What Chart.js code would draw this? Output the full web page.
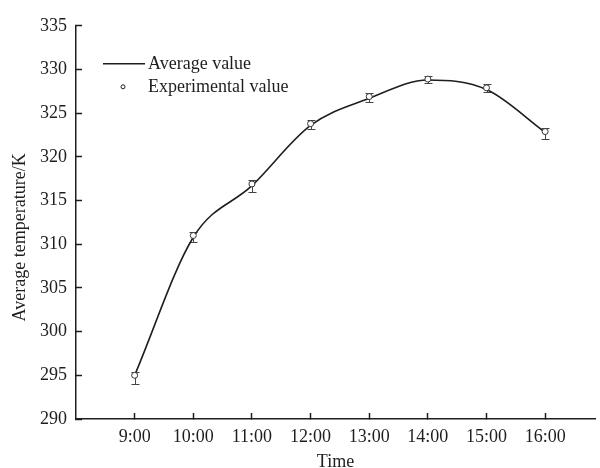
<!DOCTYPE html>
<html>
<head>
<meta charset="utf-8">
<script src="https://cdn.jsdelivr.net/npm/chart.js@4.4.1/dist/chart.umd.min.js"></script>
<style>
  body { margin: 0; background: #fff; }
</style>
</head>
<body>
<canvas id="tempChart" width="600" height="468"></canvas>
<script>
// time of day, hours (9 -> 9:00)
var hours = [9, 10, 11, 12, 13, 14, 15, 16];
// fitted average temperature, K
var avgTemp = [295.0, 310.8, 316.7, 323.6, 326.7, 328.8, 327.7, 322.8];
// measured temperature, K
var expTemp = [295.0, 311.0, 316.9, 323.8, 326.9, 328.9, 327.9, 322.9];
// error below / above each measurement, K
var errLow = [1.0, 0.7, 0.9, 0.65, 0.6, 0.5, 0.45, 0.9];
var errHigh = [0.4, 0.4, 0.4, 0.4, 0.4, 0.4, 0.4, 0.4];

var serif = "'Liberation Serif', 'Times New Roman', serif";
var ink = '#1e1e1e';
var yTitle = 'Average temperature/K';

function toPoints(ys) {
  return hours.map(function (h, i) { return { x: h, y: ys[i] }; });
}

// error bars go under the markers
const errorBars = {
  id: 'errorBars',
  beforeDatasetsDraw: function (chart) {
    var ctx = chart.ctx, xs = chart.scales.x, ys = chart.scales.y;
    ctx.save();
    ctx.strokeStyle = '#444';
    ctx.lineWidth = 1;
    hours.forEach(function (h, i) {
      var px = Math.round(xs.getPixelForValue(h)) + 0.5;
      var top = Math.round(ys.getPixelForValue(expTemp[i] + errHigh[i])) + 0.5;
      var bot = Math.round(ys.getPixelForValue(expTemp[i] - errLow[i])) + 0.5;
      ctx.beginPath();
      ctx.moveTo(px, top); ctx.lineTo(px, bot);
      ctx.moveTo(px - 4, top); ctx.lineTo(px + 4, top);
      ctx.moveTo(px - 4, bot); ctx.lineTo(px + 4, bot);
      ctx.stroke();
    });
    ctx.restore();
  }
};

// legend box in the upper left of the plot, plus the y axis title
const innerLegend = {
  id: 'innerLegend',
  afterDraw: function (chart) {
    var ctx = chart.ctx, area = chart.chartArea;
    var x0 = area.left + 27, y0 = area.top + 38;
    var sets = chart.data.datasets;
    ctx.save();
    ctx.font = '18px ' + serif;
    ctx.fillStyle = ink;
    ctx.textBaseline = 'middle';
    ctx.strokeStyle = ink;
    ctx.lineWidth = 1.5;
    ctx.beginPath();
    ctx.moveTo(x0, y0); ctx.lineTo(x0 + 42, y0);
    ctx.stroke();
    ctx.fillText(sets[1].label, x0 + 45, y0);
    ctx.lineWidth = 1;
    ctx.beginPath();
    ctx.arc(x0 + 20, y0 + 23, 2, 0, Math.PI * 2);
    ctx.stroke();
    ctx.fillText(sets[0].label, x0 + 45, y0 + 23);

    // axis title sits a little below the middle of the axis
    ctx.translate(20, (area.top + area.bottom) / 2 + 15);
    ctx.rotate(-Math.PI / 2);
    ctx.textAlign = 'center';
    ctx.fillText(yTitle, 0, 0);
    ctx.restore();
  }
};

var ctx = document.getElementById('tempChart').getContext('2d');
const tempChart = new Chart(ctx, {
  type: 'scatter',
  data: {
    datasets: [
      {
        label: 'Experimental value',
        data: toPoints(expTemp),
        showLine: false,
        pointRadius: 3,
        pointBorderWidth: 1,
        pointBorderColor: '#333',
        pointBackgroundColor: '#fff',
        order: 1
      },
      {
        label: 'Average value',
        data: toPoints(avgTemp),
        showLine: true,
        borderColor: ink,
        borderWidth: 1.6,
        cubicInterpolationMode: 'monotone',
        pointRadius: 0,
        order: 2
      }
    ]
  },
  options: {
    responsive: false,
    animation: false,
    layout: { padding: { top: 23, right: 0, left: 0, bottom: 0 } },
    plugins: {
      legend: { display: false },
      tooltip: { enabled: false }
    },
    scales: {
      x: {
        type: 'linear',
        min: 8,
        max: 16.85,
        afterBuildTicks: function (axis) {
          axis.ticks = hours.map(function (h) { return { value: h }; });
        },
        afterFit: function (scale) { scale.height = 49; },
        ticks: {
          autoSkip: false,
          padding: 13,
          color: ink,
          font: { family: serif, size: 18 },
          callback: function (v) { return v + ':00'; }
        },
        grid: { drawOnChartArea: false, drawTicks: true, tickLength: -6, tickColor: ink, tickWidth: 1.5 },
        border: { color: ink, width: 1.5 },
        title: {
          display: true,
          text: 'Time',
          color: ink,
          font: { family: serif, size: 18 },
          padding: { top: 0, bottom: -5 }
        }
      },
      y: {
        min: 290,
        max: 335,
        afterFit: function (scale) { scale.width = 76; },
        ticks: {
          stepSize: 5,
          padding: 15,
          color: ink,
          font: { family: serif, size: 18 }
        },
        grid: { drawOnChartArea: false, drawTicks: true, tickLength: -6, tickColor: ink, tickWidth: 1.5 },
        border: { color: ink, width: 1.5 }
      }
    }
  },
  plugins: [errorBars, innerLegend]
});
</script>
</body>
</html>
